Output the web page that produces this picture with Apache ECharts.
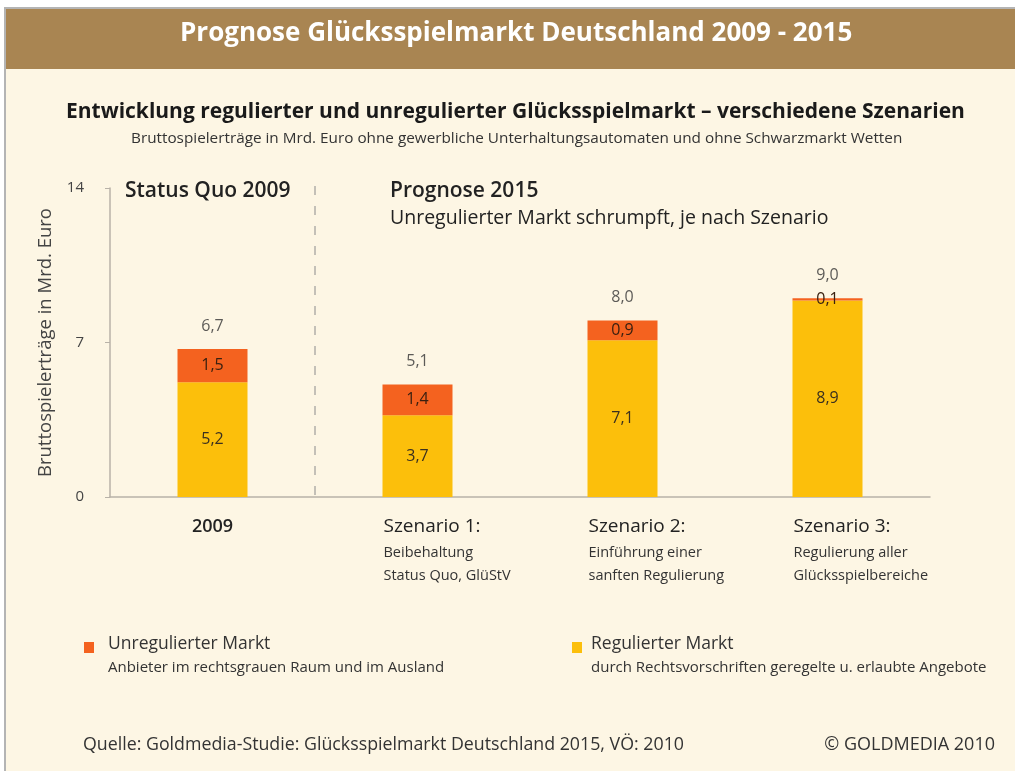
<!DOCTYPE html>
<html>
<head>
<meta charset="utf-8">
<script src="https://cdn.jsdelivr.net/npm/echarts@6/dist/echarts.min.js"></script>
<style>
html, body { margin: 0; padding: 0; background: #fff; }
#chart { width: 1015px; height: 771px; }
</style>
</head>
<body>
<div id="chart"></div>
<script>
// Daten
var categories = ['2009', 'Szenario 1:', 'Szenario 2:', 'Szenario 3:'];
var subLabels = ['', 'Beibehaltung\nStatus Quo, GlüStV', 'Einführung einer\nsanften Regulierung', 'Regulierung aller\nGlücksspielbereiche'];
var reguliert = [5.2, 3.7, 7.1, 8.9];
var unreguliert = [1.5, 1.4, 0.9, 0.1];
var gesamt = [6.7, 5.1, 8.0, 9.0];
var yTicks = [0, 7, 14];

var fontFam = '"Open Sans", "Noto Sans", sans-serif';
var cUnreg = '#f4621f';
var cReg = '#fcbf0b';

function fmt(v) {
	return v.toFixed(1).replace('.', ',');
}

var catData = categories.map(function(c, i) {
	if(i == 0) {
		return { value: c, textStyle: { align: 'center' } };
	}
	return { value: c, textStyle: { align: 'left', padding: [0, 0, 0, -34] } };
});

var option = {
	backgroundColor: '#fdf6e4',
	textStyle: { fontFamily: fontFam },
	graphic: [
		// Rahmen und Kopfzeile
		{ type: 'rect', left: 0, top: 0, shape: { width: 1015, height: 7 }, style: { fill: '#ffffff' }, silent: true },
		{ type: 'rect', left: 0, top: 0, shape: { width: 4, height: 771 }, style: { fill: '#ffffff' }, silent: true },
		{ type: 'rect', left: 4, top: 7, shape: { width: 1011, height: 2 }, style: { fill: '#b4b4b4' }, silent: true },
		{ type: 'rect', left: 4, top: 7, shape: { width: 2, height: 764 }, style: { fill: '#b4b4b4' }, silent: true },
		{ type: 'rect', left: 6, top: 9, shape: { width: 1009, height: 60 }, style: { fill: '#a98552' }, silent: true },
		{
			type: 'text', left: 180, top: 21,
			style: { text: 'Prognose Glücksspielmarkt Deutschland 2009 - 2015', fill: '#ffffff', font: 'bold 26px ' + fontFam }
		},
		// Trennlinie
		{
			type: 'line', shape: { x1: 315, y1: 186, x2: 315, y2: 497 },
			style: { stroke: '#8a8a8a', lineWidth: 1, lineDash: [9, 11] }, silent: true
		},
		{ type: 'text', left: 125, top: 181, style: { text: 'Status Quo 2009', fill: '#222', font: '600 21px ' + fontFam } },
		{ type: 'text', left: 390, top: 181, style: { text: 'Prognose 2015', fill: '#222', font: '600 21px ' + fontFam } },
		{ type: 'text', left: 390, top: 208, style: { text: 'Unregulierter Markt schrumpft, je nach Szenario', fill: '#222', font: '500 19.5px ' + fontFam } },
		// Fußzeile
		{ type: 'text', left: 83, top: 736, style: { text: 'Quelle: Goldmedia-Studie: Glücksspielmarkt Deutschland 2015, VÖ: 2010', fill: '#333', font: '17.8px ' + fontFam } },
		{ type: 'text', right: 20, top: 736, style: { text: '© GOLDMEDIA 2010', fill: '#333', font: '18px ' + fontFam } }
	],
	title: [{
		text: 'Entwicklung regulierter und unregulierter Glücksspielmarkt – verschiedene Szenarien',
		left: 61,
		top: 97,
		textStyle: { fontSize: 21, fontWeight: 'bold', color: '#1a1a1a', fontFamily: fontFam }
	}, {
		text: 'Bruttospielerträge in Mrd. Euro ohne gewerbliche Unterhaltungsautomaten und ohne Schwarzmarkt Wetten',
		left: 126,
		top: 126,
		textStyle: { fontSize: 15.3, fontWeight: 'normal', color: '#333', fontFamily: fontFam }
	}],
	legend: {
		left: 79,
		top: 630,
		width: 935,
		itemWidth: 10,
		itemHeight: 38,
		itemGap: 14,
		icon: 'path://M0,0h10v11h-10zM0,28h0.01',
		selectedMode: false,
		data: ['Unregulierter Markt', 'Regulierter Markt'],
		formatter: function(name) {
			if(name == 'Unregulierter Markt') {
				return '{a1|' + name + '}\n{b1|Anbieter im rechtsgrauen Raum und im Ausland}';
			}
			return '{a2|' + name + '}\n{b2|durch Rechtsvorschriften geregelte u. erlaubte Angebote}';
		},
		textStyle: {
			rich: {
				a1: { fontSize: 17.5, color: '#333', lineHeight: 24, width: 450, padding: [0, 0, 0, 9], fontFamily: fontFam },
				b1: { fontSize: 15, color: '#333', lineHeight: 24, width: 450, padding: [0, 0, 0, 9], fontFamily: fontFam },
				a2: { fontSize: 17.5, color: '#333', lineHeight: 24, width: 400, padding: [0, 0, 0, 4], fontFamily: fontFam },
				b2: { fontSize: 15, color: '#333', lineHeight: 24, width: 400, padding: [0, 0, 0, 4], fontFamily: fontFam }
			}
		}
	},
	grid: {
		left: 110,
		top: 188,
		width: 820,
		bottom: 274
	},
	xAxis: {
		type: 'category',
		data: catData,
		axisLine: { lineStyle: { color: '#b8b2a8', width: 1.5 } },
		axisTick: { show: false },
		axisLabel: {
			margin: 16,
			interval: 0,
			formatter: function(v, i) {
				if(i == 0) return '{y|' + v + '}';
				return '{t|' + v + '}\n{s|' + subLabels[i] + '}';
			},
			rich: {
				y: { fontSize: 18, fontWeight: 600, color: '#222', lineHeight: 28, fontFamily: fontFam },
				t: { fontSize: 19, fontWeight: 500, color: '#222', lineHeight: 28, fontFamily: fontFam },
				s: { fontSize: 14.5, color: '#333', lineHeight: 23, fontFamily: fontFam }
			}
		}
	},
	yAxis: {
		type: 'value',
		min: 0,
		max: 14,
		interval: 7,
		name: 'Bruttospielerträge in Mrd. Euro',
		nameLocation: 'middle',
		nameGap: 55,
		nameTextStyle: { fontSize: 18.5, color: '#444', fontFamily: fontFam },
		axisLine: { show: true, lineStyle: { color: '#b8b2a8', width: 1.5 } },
		axisTick: { show: true, length: 5, lineStyle: { color: '#b8b2a8' } },
		axisLabel: {
			margin: 26,
			color: '#444',
			fontSize: 15,
			formatter: function(v) { return yTicks.indexOf(v) >= 0 ? v : ''; }
		},
		splitLine: { show: false }
	},
	series: [{
		name: 'Regulierter Markt',
		type: 'bar',
		stack: 'markt',
		barWidth: 70,
		data: reguliert,
		itemStyle: { color: cReg },
		label: { show: true, position: 'inside', color: '#3a3020', fontSize: 16, formatter: function(p) { return fmt(p.value); } }
	}, {
		name: 'Unregulierter Markt',
		type: 'bar',
		stack: 'markt',
		barWidth: 70,
		data: unreguliert,
		itemStyle: { color: cUnreg },
		label: { show: true, position: 'inside', color: '#3a2010', fontSize: 16, formatter: function(p) { return fmt(p.value); } }
	}, {
		name: 'Gesamt',
		type: 'scatter',
		data: gesamt,
		symbolSize: 0,
		silent: true,
		label: { show: true, position: 'top', distance: 15, color: '#333', fontSize: 16, formatter: function(p) { return fmt(p.value); } }
	}]
};

var chart = echarts.init(document.getElementById('chart'));
chart.setOption(option);
</script>
</body>
</html>
